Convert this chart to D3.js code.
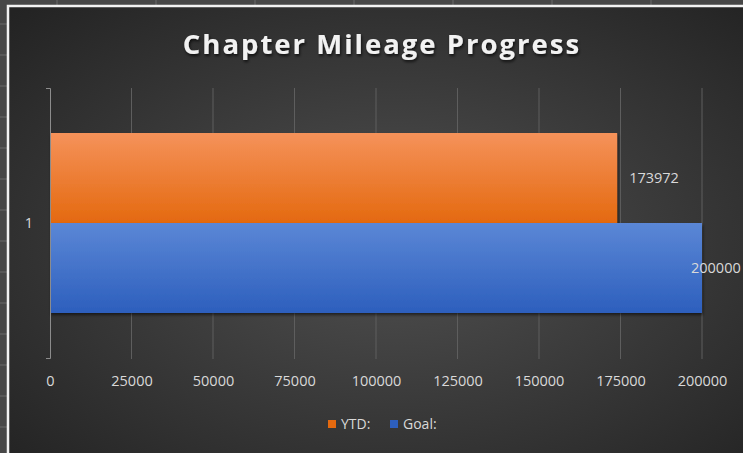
<!DOCTYPE html>
<html>
<head>
<meta charset="UTF-8">
<title>Chapter Mileage Progress</title>
<script src="https://d3js.org/d3.v7.min.js"></script>
<style>
  body { margin: 0; background: #474747; }
  svg { display: block; }
</style>
</head>
<body>
<div id="chart"></div>
<script>
// data
var categories = ["1"];
var seriesNames = ["YTD:", "Goal:"];
var ytdValues = [173972];
var goalValues = [200000];
var xTickValues = [0, 25000, 50000, 75000, 100000, 125000, 150000, 175000, 200000];
var chartTitle = "Chapter Mileage Progress";

var seriesColors = {
  "YTD:": ["#f5925a", "#e4690f"],
  "Goal:": ["#5b87d6", "#2d5fbd"]
};

var W = 743, H = 453;
var margin = {top: 88, right: 41, bottom: 95, left: 50};
var width = W - margin.left - margin.right,
    height = H - margin.top - margin.bottom;

var svg = d3.select("#chart").append("svg")
  .attr("width", W)
  .attr("height", H);

var defs = svg.append("defs");

var bg = defs.append("radialGradient").attr("id", "bg")
  .attr("cx", "52%").attr("cy", "52%").attr("r", "72%");
bg.append("stop").attr("offset", "0%").attr("stop-color", "#515151");
bg.append("stop").attr("offset", "100%").attr("stop-color", "#232323");

seriesNames.forEach(function(s, i) {
  var g = defs.append("linearGradient").attr("id", "grad" + i)
    .attr("x1", 0).attr("y1", 0).attr("x2", 0).attr("y2", 1);
  g.append("stop").attr("offset", "0%").attr("stop-color", seriesColors[s][0]);
  g.append("stop").attr("offset", "100%").attr("stop-color", seriesColors[s][1]);
});

var shadow = defs.append("filter").attr("id", "shadow")
  .attr("x", "-5%").attr("y", "-10%").attr("width", "115%").attr("height", "130%");
shadow.append("feDropShadow").attr("dx", 1).attr("dy", 2).attr("stdDeviation", 1.5)
  .attr("flood-color", "#000").attr("flood-opacity", 0.55);

var tshadow = defs.append("filter").attr("id", "tshadow")
  .attr("x", "-5%").attr("y", "-30%").attr("width", "110%").attr("height", "170%");
tshadow.append("feDropShadow").attr("dx", 1).attr("dy", 2).attr("stdDeviation", 1.5)
  .attr("flood-color", "#000").attr("flood-opacity", 0.7);

// spreadsheet behind the chart
var sheet = svg.append("g");
d3.range(24, H, 31).forEach(function(y) {
  sheet.append("line").attr("x1", 0).attr("x2", 7).attr("y1", y).attr("y2", y)
    .attr("stroke", "#6a6a6a");
});
d3.range(57, W, 99).forEach(function(x) {
  sheet.append("line").attr("x1", x).attr("x2", x).attr("y1", 0).attr("y2", 6)
    .attr("stroke", "#6a6a6a");
});
svg.append("rect").attr("x", 8).attr("y", 6).attr("width", W).attr("height", H)
  .attr("fill", "url(#bg)").attr("stroke", "#f2f2f2").attr("stroke-width", 2.5);

// title
svg.append("text")
  .attr("x", 382).attr("y", 54)
  .attr("text-anchor", "middle")
  .attr("font-family", "Open Sans")
  .attr("font-weight", 700)
  .attr("font-size", 27.5)
  .attr("letter-spacing", 2)
  .attr("fill", "#f2f2f2")
  .attr("filter", "url(#tshadow)")
  .text(chartTitle);

var g = svg.append("g")
  .attr("transform", "translate(" + margin.left + "," + margin.top + ")");

var x = d3.scaleLinear().domain([0, 200000]).range([0, width]);
var y = d3.scaleBand().domain(categories).range([0, height]);
var ySub = d3.scaleBand().domain(seriesNames).range([0, y.bandwidth()])
  .paddingInner(0).paddingOuter(0.5);

// gridlines
g.selectAll(".grid").data(xTickValues.slice(1)).enter().append("line")
  .attr("x1", function(d) { return x(d); })
  .attr("x2", function(d) { return x(d); })
  .attr("y1", 0).attr("y2", height + 1)
  .attr("stroke", "#5e5e5e").attr("stroke-width", 1);

// x axis labels
var xAxis = g.append("g")
  .attr("transform", "translate(0," + height + ")")
  .call(d3.axisBottom(x).tickValues(xTickValues).tickSize(0).tickPadding(18)
    .tickFormat(d3.format("d")));
xAxis.select(".domain").remove();
xAxis.selectAll("text")
  .attr("font-family", "Open Sans").attr("font-size", 14.5).attr("fill", "#d9d9d9");

// bars
var rows = categories.map(function(c, i) {
  return {cat: c, vals: [{s: "YTD:", v: ytdValues[i]}, {s: "Goal:", v: goalValues[i]}]};
});

var cat = g.selectAll(".cat").data(rows).enter().append("g")
  .attr("transform", function(d) { return "translate(0," + y(d.cat) + ")"; });

cat.selectAll("rect").data(function(d) { return d.vals; }).enter().append("rect")
  .attr("x", x(0))
  .attr("y", function(d) { return ySub(d.s); })
  .attr("width", function(d) { return x(d.v) - x(0); })
  .attr("height", ySub.bandwidth())
  .attr("fill", function(d) { return "url(#grad" + seriesNames.indexOf(d.s) + ")"; })
  .attr("filter", "url(#shadow)");

cat.selectAll(".lbl").data(function(d) { return d.vals; }).enter().append("text")
  .attr("x", function(d) {
    var px = x(d.v) + 12;
    return px + 52 > width + margin.right ? x(d.v) - 11 : px;
  })
  .attr("y", function(d) { return ySub(d.s) + ySub.bandwidth() / 2; })
  .attr("dy", "0.35em")
  .attr("font-family", "Open Sans").attr("font-size", 14.5).attr("fill", "#d9d9d9")
  .text(function(d) { return d.v; });

// y axis
var yAxis = g.append("g")
  .call(d3.axisLeft(y).tickSizeInner(0).tickSizeOuter(4).tickPadding(17));
yAxis.select(".domain").attr("stroke", "#8c8c8c");
yAxis.selectAll("text")
  .attr("font-family", "Open Sans").attr("font-size", 14.5).attr("fill", "#d9d9d9");

// legend
var legend = svg.append("g").attr("transform", "translate(328,424)");
var lx = 0;
seriesNames.forEach(function(s, i) {
  var item = legend.append("g").attr("transform", "translate(" + lx + ",0)");
  item.append("rect").attr("x", 0).attr("y", -4).attr("width", 8).attr("height", 8)
    .attr("fill", seriesColors[s][1]);
  item.append("text").attr("x", 13).attr("y", 0).attr("dy", "0.35em")
    .attr("font-family", "Open Sans").attr("font-size", 14).attr("fill", "#d9d9d9")
    .text(s);
  lx += 62;
});
</script>
</body>
</html>
